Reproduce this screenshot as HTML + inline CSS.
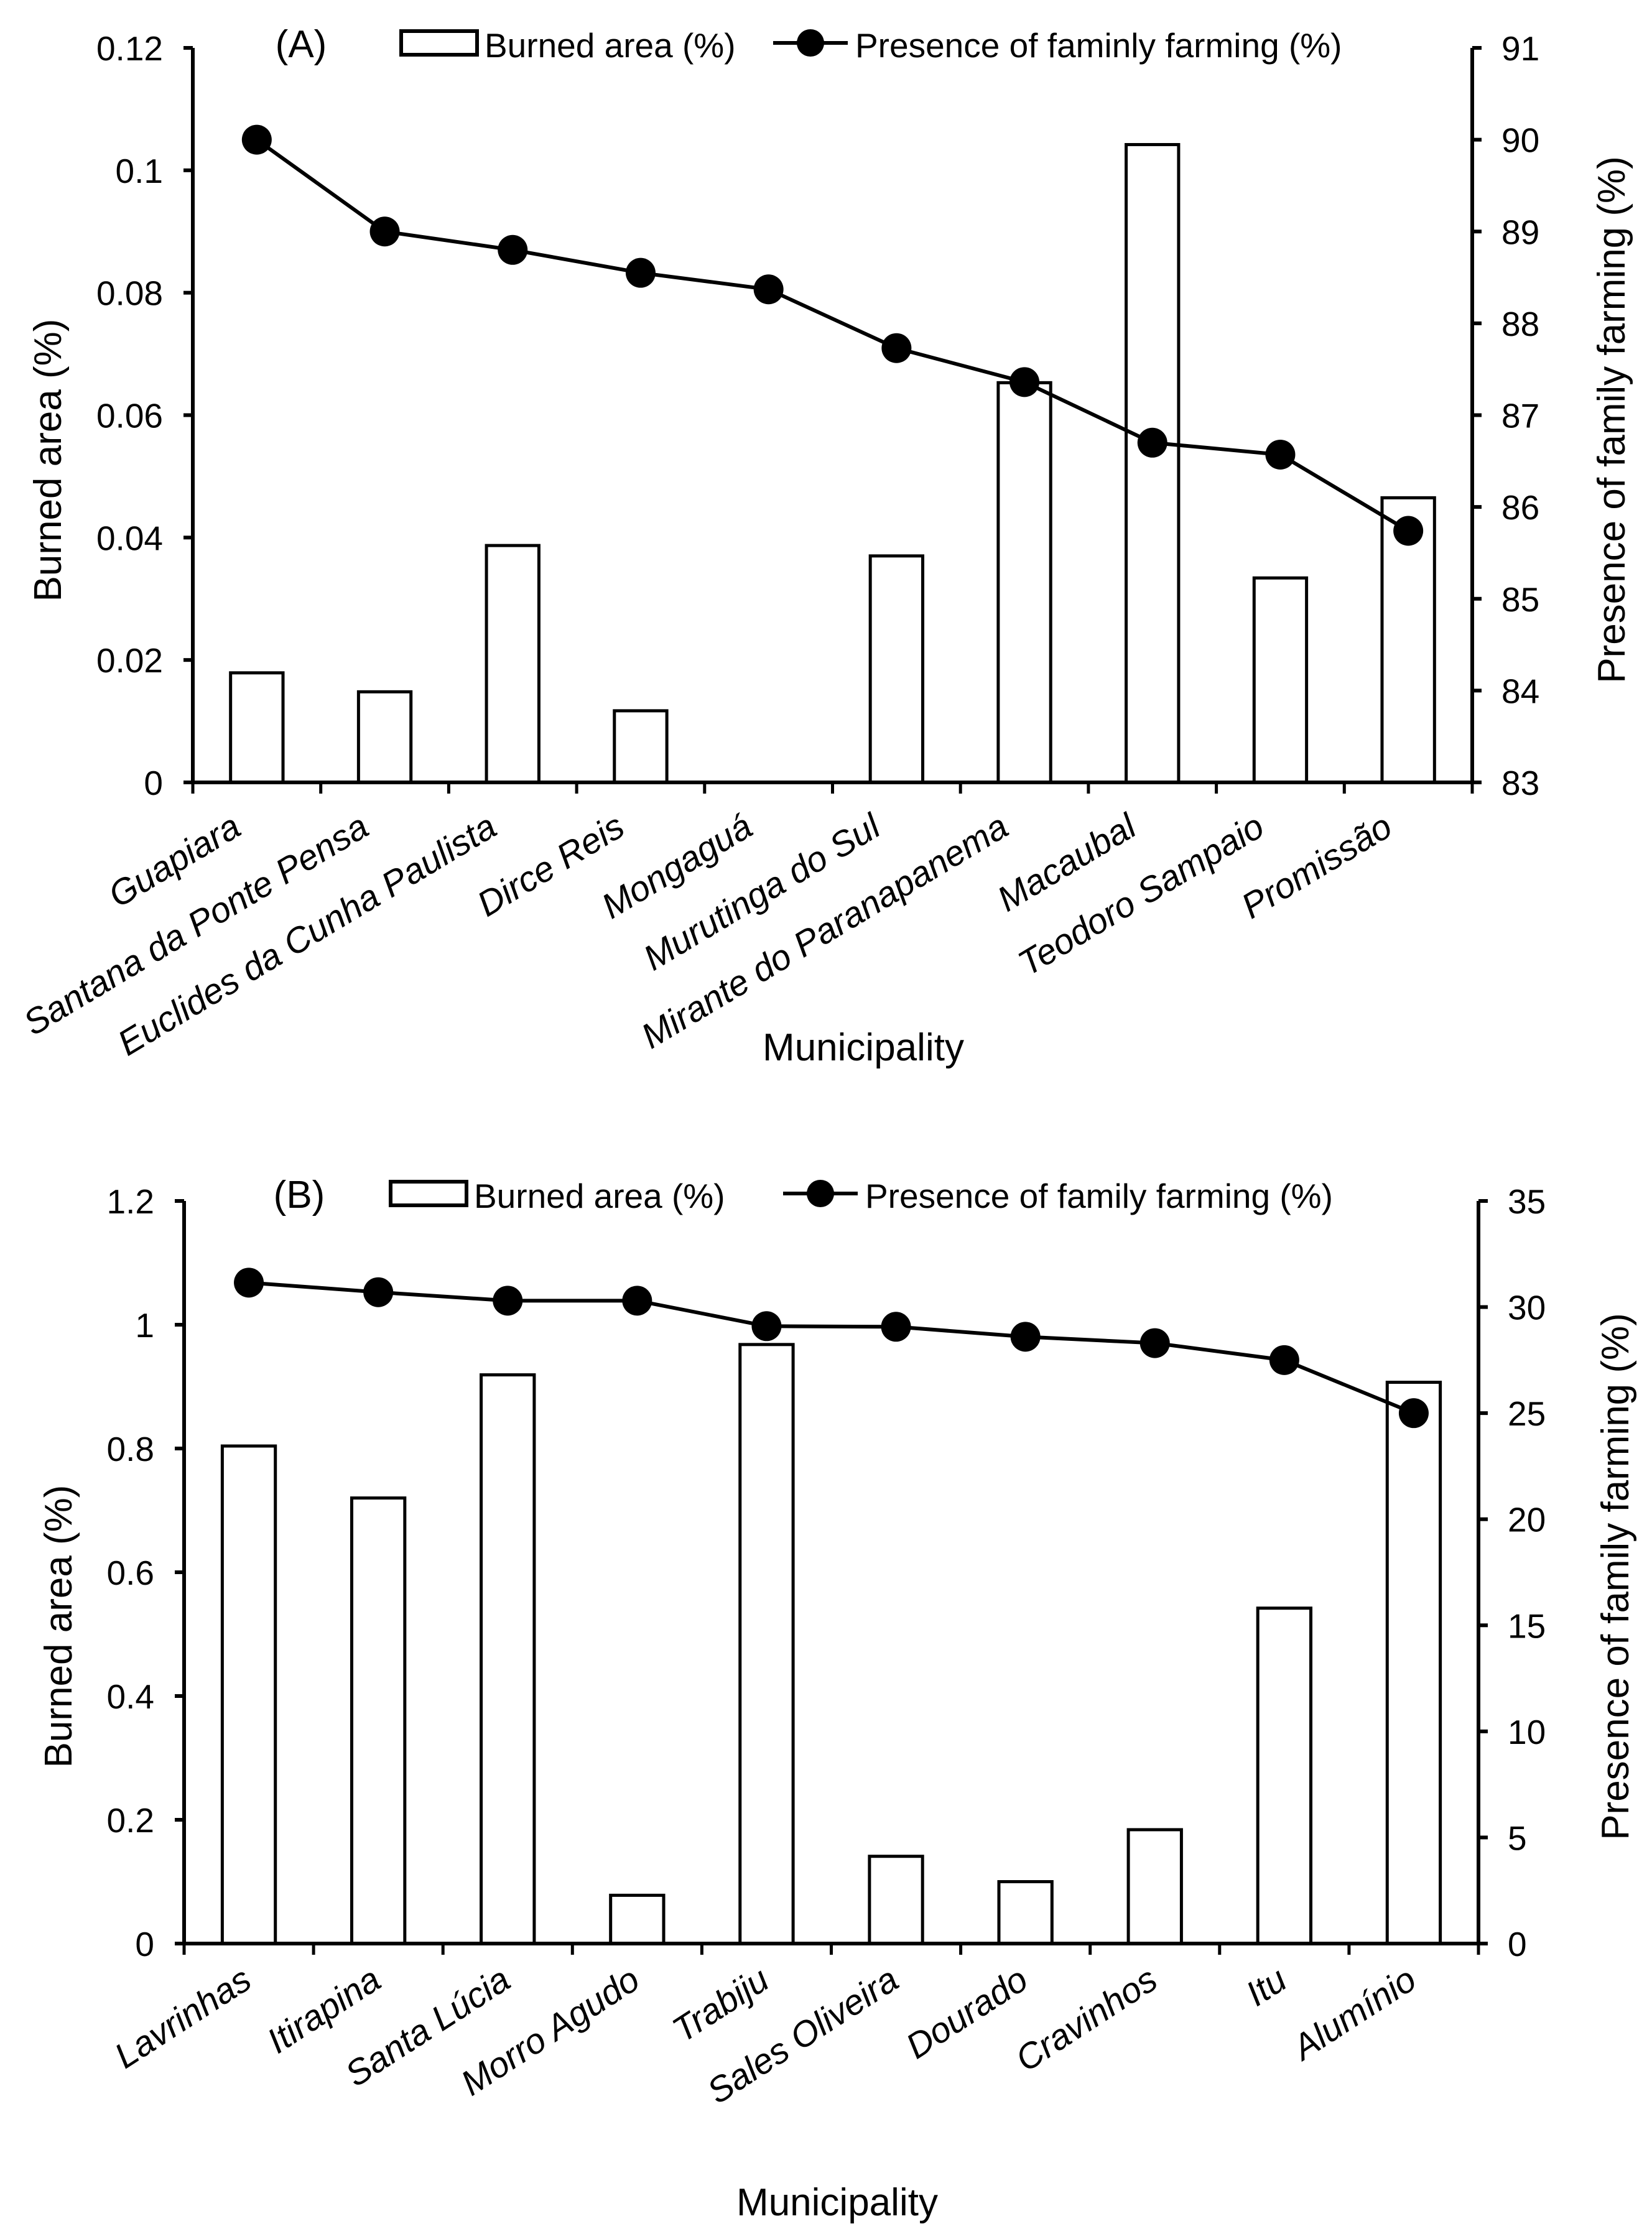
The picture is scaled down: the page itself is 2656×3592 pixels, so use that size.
<!DOCTYPE html>
<html><head><meta charset="utf-8">
<style>
html,body{margin:0;padding:0;background:#fff;}
svg{display:block;}
text{font-family:"Liberation Sans",Arial,sans-serif;fill:#000;}
</style></head>
<body>
<svg id="fig" width="2656" height="3592" viewBox="0 0 2656 3592" xmlns="http://www.w3.org/2000/svg">
<rect width="2656" height="3592" fill="#fff"/>
</svg>
<script>
// ---- Chart A data ----
const catsA = ["Guapiara","Santana da Ponte Pensa","Euclides da Cunha Paulista","Dirce Reis","Mongaguá","Murutinga do Sul","Mirante do Paranapanema","Macaubal","Teodoro Sampaio","Promissão"];
const burnedA = [0.0179,0.0148,0.0387,0.0117,0,0.0370,0.0653,0.1042,0.0334,0.0465];
const familyA = [90.0,89.0,88.80,88.55,88.37,87.73,87.36,86.70,86.57,85.74];
const leftTicksA = ["0","0.02","0.04","0.06","0.08","0.1","0.12"];
const rightTicksA = ["83","84","85","86","87","88","89","90","91"];
// ---- Chart B data ----
const catsB = ["Lavrinhas","Itirapina","Santa Lúcia","Morro Agudo","Trabiju","Sales Oliveira","Dourado","Cravinhos","Itu","Alumínio"];
const burnedB = [0.804,0.72,0.919,0.078,0.968,0.141,0.10,0.184,0.542,0.907];
const familyB = [31.15,30.7,30.3,30.3,29.1,29.07,28.6,28.3,27.5,25.0];
const leftTicksB = ["0","0.2","0.4","0.6","0.8","1","1.2"];
const rightTicksB = ["0","5","10","15","20","25","30","35"];

const NS="http://www.w3.org/2000/svg";
const svg=document.getElementById('fig');
function mk(tag,attrs,parent){const e=document.createElementNS(NS,tag);for(const k in attrs)e.setAttribute(k,attrs[k]);(parent||svg).appendChild(e);return e;}

function drawChart(o){
  const g=mk('g',{});
  
  
  const L=o.left,R=o.right,T=o.top,B=o.bottom,n=o.cats.length,cw=(R-L)/n;
  const lmin=parseFloat(o.lt[0]),lmax=parseFloat(o.lt[o.lt.length-1]);
  const rmin=parseFloat(o.rt[0]),rmax=parseFloat(o.rt[o.rt.length-1]);
  const yL=v=>B-(v-lmin)/(lmax-lmin)*(B-T);
  const yR=v=>B-(v-rmin)/(rmax-rmin)*(B-T);
  const xC=i=>L+(i+0.5)*cw;
  o.bars.forEach((v,i)=>{
    if(v<=0)return;
    const bw=cw*0.41;
    const r=mk('rect',{x:xC(i)-bw/2,y:yL(v),width:bw,height:B-yL(v),fill:'#fff',stroke:'#000','stroke-width':5},g);
    
    
  });
  const ax=mk('path',{d:`M${L},${T} V${B} H${R} V${T}`,fill:'none',stroke:'#000','stroke-width':6},g);
  
  
  o.lt.forEach(t=>{
    const y=yL(parseFloat(t));
    mk('line',{x1:L-15,x2:L,y1:y,y2:y,stroke:'#000','stroke-width':6},g);
    const tx=mk('text',{x:L-48,y:y+20,'font-size':55,'text-anchor':'end'},g);
    tx.textContent=t;
    
    
  });
  o.rt.forEach(t=>{
    const y=yR(parseFloat(t));
    mk('line',{x1:R,x2:R+15,y1:y,y2:y,stroke:'#000','stroke-width':6},g);
    const tx=mk('text',{x:R+47,y:y+20,'font-size':55},g);
    tx.textContent=t;
    
    
  });
  for(let i=0;i<=n;i++){
    const x=L+i*cw;
    mk('line',{x1:x,x2:x,y1:B,y2:B+18,stroke:'#000','stroke-width':5},g);
  }
  o.cats.forEach((c,i)=>{
    const x=xC(i)+o.lxo,y=B+o.lyo;
    const tx=mk('text',{x:x,y:y,'font-size':57,'font-style':'italic','text-anchor':'end',transform:`rotate(${o.rot} ${x} ${y})`},g);
    tx.textContent=c;
    
    
  });
  const pts=o.line.map((v,i)=>xC(i)+','+yR(v)).join(' ');
  const pl=mk('polyline',{points:pts,fill:'none',stroke:'#000','stroke-width':6},g);
  
  
  o.line.forEach((v,i)=>{
    const c=mk('circle',{cx:xC(i),cy:yR(v),r:24,fill:'#000'},g);
    
    
  });
  const pt=mk('text',{x:o.panelX,y:o.legY+8,'font-size':62,'text-anchor':'middle'},g);
  pt.textContent=o.panel;
  
  
  const lb=mk('rect',{x:o.boxX,y:o.legY-34,width:122,height:38,fill:'#fff',stroke:'#000','stroke-width':6},g);
  
  
  const l1=mk('text',{x:o.boxX+134,y:o.legY+8,'font-size':55},g);
  l1.textContent='Burned area (%)';
  
  
  mk('line',{x1:o.lineX,x2:o.lineX+120,y1:o.legY-15,y2:o.legY-15,stroke:'#000','stroke-width':6},g);
  mk('circle',{cx:o.lineX+60,cy:o.legY-15,r:22,fill:'#000'},g);
  const l2=mk('text',{x:o.lineX+132,y:o.legY+8,'font-size':55},g);
  l2.textContent=o.legLine;
  
  
  const lt=mk('text',{x:0,y:0,'font-size':62,'text-anchor':'middle',transform:`translate(${o.ltX},${o.ltY}) rotate(-90)`},g);
  lt.textContent='Burned area (%)';
  
  
  const rtt=mk('text',{x:0,y:0,'font-size':62,'text-anchor':'middle',transform:`translate(${o.rtX},${o.rtY}) rotate(-90)`},g);
  rtt.textContent='Presence of family farming (%)';
  
  
  const xt=mk('text',{x:o.xtX,y:o.xtY,'font-size':62,'text-anchor':'middle'},g);
  xt.textContent='Municipality';
  
  
}

drawChart({name:'chart-a',cats:catsA,bars:burnedA,line:familyA,lt:leftTicksA,rt:rightTicksA,
  left:310,right:2367,top:77,bottom:1258,rot:-31,lxo:-22,lyo:82,panel:'(A)',panelX:484,legY:84,boxX:645,lineX:1243,
  legLine:'Presence of faminly farming (%)',ltX:98,ltY:740,rtX:2612,rtY:675,xtX:1388,xtY:1705});
drawChart({name:'chart-b',cats:catsB,bars:burnedB,line:familyB,lt:leftTicksB,rt:rightTicksB,
  left:296,right:2377,top:1931,bottom:3125,rot:-33,lxo:8,lyo:68,panel:'(B)',panelX:481,legY:1934,boxX:628,lineX:1259,
  legLine:'Presence of family farming (%)',ltX:115,ltY:2615,rtX:2618,rtY:2535,xtX:1346,xtY:3562});
</script>
</body></html>
